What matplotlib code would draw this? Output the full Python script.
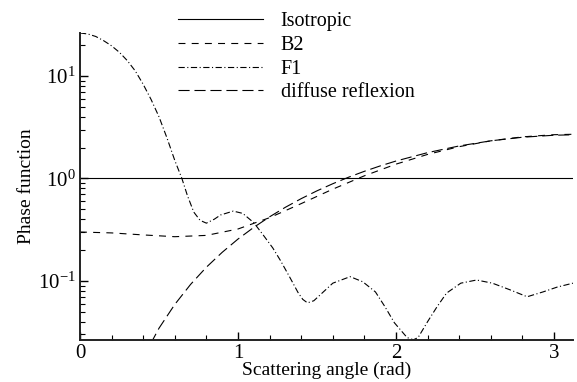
import matplotlib
matplotlib.use("Agg")
import matplotlib.pyplot as plt
from matplotlib.ticker import LogLocator, MultipleLocator, NullFormatter
import numpy as np

plt.rcParams["font.family"] = ["Liberation Serif", "DejaVu Serif"]
plt.rcParams["mathtext.fontset"] = "custom"
plt.rcParams["mathtext.rm"] = "Liberation Serif"
plt.rcParams["font.size"] = 13
plt.rcParams["lines.scale_dashes"] = False

# phase functions vs scattering angle (rad)
theta_iso = [0.0, 3.12]
p_iso = [1.0, 1.0]

theta_b2 = [0.0, 0.2, 0.4, 0.6, 0.8, 1.0, 1.2, 1.4, 1.6, 1.8, 2.0, 2.2, 2.4, 2.6, 2.8, 3.0, 3.12]
p_b2 = [0.300, 0.294, 0.281, 0.270, 0.278, 0.321, 0.414, 0.568, 0.786, 1.061, 1.379, 1.716,
        2.043, 2.329, 2.546, 2.673, 2.698]

theta_f1 = [0.0, 0.05, 0.10, 0.15, 0.20, 0.25, 0.30, 0.35, 0.40, 0.45, 0.50, 0.55, 0.60, 0.645,
            0.68, 0.72, 0.76, 0.80, 0.85, 0.89, 0.97, 1.03, 1.10, 1.16, 1.22, 1.27, 1.33, 1.38,
            1.41, 1.44, 1.48, 1.52, 1.60, 1.71, 1.79, 1.87, 1.93, 1.99, 2.07, 2.11, 2.14, 2.20,
            2.26, 2.32, 2.41, 2.51, 2.61, 2.72, 2.83, 2.93, 3.02, 3.12]
p_f1 = [26.3, 25.7, 24.3, 22.1, 19.7, 17.0, 14.1, 11.2, 8.3, 5.9, 4.0, 2.5, 1.5, 1.0,
        0.68, 0.47, 0.39, 0.366, 0.40, 0.44, 0.48, 0.456, 0.37, 0.28, 0.21, 0.157, 0.107, 0.077,
        0.066, 0.061, 0.064, 0.073, 0.095, 0.110, 0.098, 0.078, 0.056, 0.039, 0.028, 0.0266,
        0.028, 0.040, 0.056, 0.076, 0.095, 0.102, 0.095, 0.082, 0.070, 0.078, 0.087, 0.095]

theta_dr = [0.40, 0.5, 0.6, 0.7, 0.8, 0.9, 1.0, 1.1, 1.2, 1.3, 1.4, 1.5, 1.6, 1.7, 1.8, 1.9,
            2.0, 2.2, 2.4, 2.6, 2.8, 3.0, 3.12]
p_dr = [0.0178, 0.0345, 0.0589, 0.0924, 0.136, 0.190, 0.256, 0.333, 0.422, 0.523, 0.635,
        0.757, 0.888, 1.028, 1.174, 1.325, 1.479, 1.786, 2.076, 2.329, 2.524, 2.641, 2.666]

fig = plt.figure(figsize=(5.77, 3.82), dpi=100)
ax = fig.add_axes([0.1386, 0.110, 0.8544, 0.8037])

lc = "black"
ax.plot(theta_iso, p_iso, color=lc, lw=0.8, ls="-", label="Isotropic")
ax.plot(theta_b2, p_b2, color=lc, lw=0.8, dashes=(5, 4.5), label="B2")
ax.plot(theta_f1, p_f1, color=lc, lw=0.8, dashes=(4.5, 1.8, 0.8, 1.8), label="F1")
ax.plot(theta_dr, p_dr, color=lc, lw=0.8, dashes=(8, 3.5), label="diffuse reflexion")

ax.set_yscale("log")
ax.set_xlim(0, 3.12)
ax.set_ylim(0.0265, 26.3)

ax.xaxis.set_major_locator(MultipleLocator(1))
ax.xaxis.set_minor_locator(MultipleLocator(0.2))
ax.yaxis.set_major_locator(LogLocator(base=10))
ax.yaxis.set_minor_locator(LogLocator(base=10, subs=np.arange(2, 10)))
ax.yaxis.set_minor_formatter(NullFormatter())

for s in ("top", "right"):
    ax.spines[s].set_visible(False)
for s in ("left", "bottom"):
    ax.spines[s].set_linewidth(1.4)
    ax.spines[s].set_color("#222222")

ax.tick_params(which="major", direction="in", length=6, width=1.0, labelsize=15, pad=3)
ax.tick_params(which="minor", direction="in", length=3.5, width=0.8)

ax.set_xlabel("Scattering angle (rad)", fontsize=14, labelpad=-1)
ax.set_ylabel("Phase function", fontsize=14, labelpad=2)

ax.legend(loc="upper left", bbox_to_anchor=(168 / 577, 1 - 2 / 382), bbox_transform=fig.transFigure,
          frameon=False, borderpad=0, handlelength=4.2, handletextpad=0.9, labelspacing=0.23,
          fontsize=14.5)

fig.savefig("out.png", dpi=100)
